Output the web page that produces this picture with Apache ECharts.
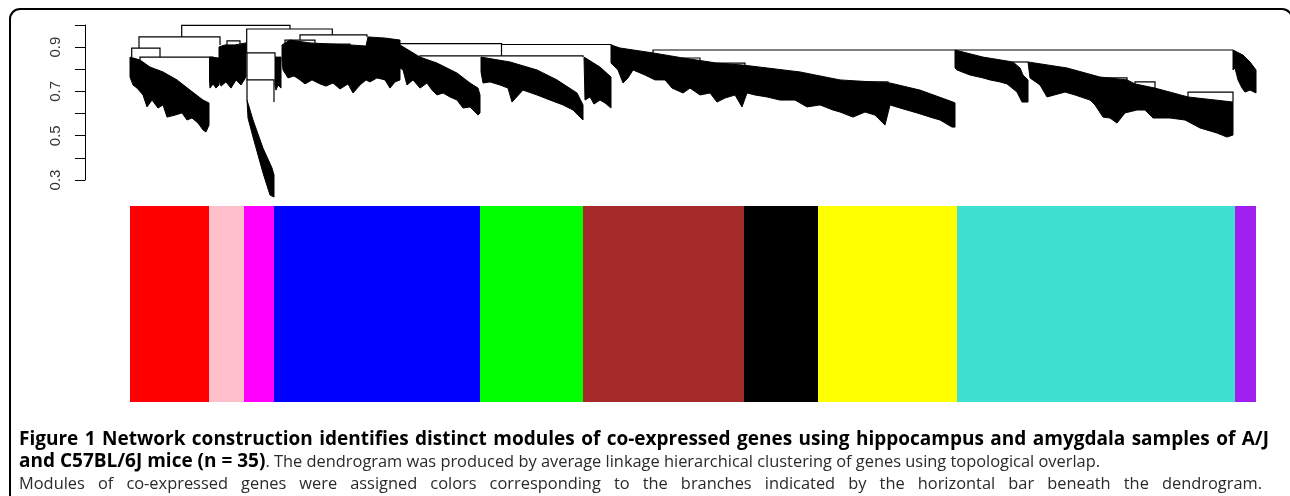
<!DOCTYPE html>
<html><head><meta charset="utf-8">
<script src="https://cdn.jsdelivr.net/npm/echarts@6/dist/echarts.min.js"></script>
<style>html,body{margin:0;padding:0;background:#fff;}#chart{width:1290px;height:496px;}</style>
</head><body><div id="chart"></div>
<script>
// ---- colour bar: module sizes (genes, in dendrogram leaf order) ----
const moduleNames = ['red','pink','magenta','blue','green','brown','black','yellow','turquoise','purple'];
const moduleSizes = [79, 35, 30, 206, 103, 161, 74, 139, 278, 21];
const moduleColors = ['#FF0000','#FFC0CB','#FF00FF','#0000FF','#00FF00','#A52A2A','#000000','#FFFF00','#40E0D0','#A020F0'];

// ---- y axis ----
const yTickLabels = ['0.3','0.5','0.7','0.9'];

// ---- dendrogram branch outlines: [leaf position, height] ----
const redTop = [[0,0.855],[10,0.842],[20,0.810],[33,0.788],[47,0.752],[60,0.706],[73,0.661],[79,0.648]];
const redBottom = [[79,0.548],[76,0.517],[73,0.526],[68,0.557],[62,0.580],[57,0.571],[52,0.603],[45,0.593],[37,0.584],[33,0.639],[28,0.625],[22,0.661],[17,0.630],[13,0.684],[7,0.715],[3,0.729],[0,0.765]];
const pinkATop = [[79.5,0.855],[89,0.851]];
const pinkABottom = [[89,0.729],[86,0.715],[83,0.734],[80,0.715],[79.5,0.752]];
const pinkBTop = [[89,0.901],[95,0.910],[105,0.910],[116,0.919]];
const pinkBBottom = [[116,0.765],[111,0.729],[106,0.752],[101,0.715],[96,0.743],[91,0.724],[89,0.752]];
const magentaTop = [[117,0.661],[123,0.571],[133,0.444],[142,0.354],[144,0.323]];
const magentaBottom = [[144,0.223],[140,0.232],[133,0.332],[123,0.494],[118,0.580]];
const blueATop = [[145,0.855],[151,0.855]];
const blueABottom = [[151,0.715],[148,0.729],[146,0.706],[145,0.729]];
const blueBTop = [[152,0.910],[160,0.932],[180,0.919],[200,0.914],[220,0.910],[236,0.905],[238,0.946],[255,0.941],[270,0.932]];
const blueBBottom = [[270,0.752],[265,0.743],[260,0.715],[255,0.752],[247,0.761],[240,0.743],[236,0.752],[230,0.729],[223,0.693],[218,0.734],[210,0.711],[203,0.738],[196,0.724],[190,0.734],[182,0.752],[175,0.734],[170,0.752],[164,0.770],[158,0.761],[153,0.797],[152,0.842]];
const blueCTop = [[270,0.910],[290,0.855],[307,0.828],[327,0.783],[340,0.738],[348,0.715],[350,0.684]];
const blueCBottom = [[350,0.603],[348,0.593],[340,0.630],[333,0.625],[327,0.661],[320,0.675],[313,0.693],[307,0.684],[302,0.706],[297,0.738],[290,0.715],[283,0.752],[277,0.729],[273,0.797],[270,0.806]];
const greenTop = [[351,0.855],[380,0.833],[407,0.797],[427,0.752],[447,0.693],[453,0.639]];
const greenBottom = [[453,0.571],[448,0.593],[443,0.616],[433,0.639],[420,0.661],[407,0.684],[393,0.706],[382,0.652],[378,0.715],[370,0.729],[360,0.743],[353,0.738],[351,0.788]];
const brownATop = [[454,0.855],[470,0.810],[481,0.765]];
const brownABottom = [[481,0.625],[475,0.648],[470,0.661],[464,0.643],[460,0.675],[455,0.661]];
const brownBTop = [[481,0.910],[490,0.896],[523,0.874],[553,0.851],[587,0.828],[613,0.819],[670,0.788],[710,0.752],[760,0.738],[790,0.706],[823,0.652],[825,0.648]];
const brownBBottom = [[825,0.539],[822,0.539],[810,0.571],[803,0.580],[787,0.603],[770,0.625],[760,0.639],[755,0.548],[745,0.593],[735,0.607],[723,0.584],[710,0.607],[703,0.616],[690,0.639],[677,0.630],[665,0.661],[650,0.661],[637,0.675],[625,0.684],[617,0.693],[612,0.630],[605,0.684],[595,0.670],[587,0.652],[580,0.693],[570,0.684],[560,0.715],[553,0.693],[542,0.715],[535,0.752],[525,0.752],[515,0.774],[503,0.797],[498,0.761],[493,0.738],[488,0.797],[481,0.828]];
const turqATop = [[825,0.887],[853,0.855],[883,0.833],[890,0.806],[893,0.774],[898,0.752]];
const turqABottom = [[898,0.652],[892,0.652],[887,0.697],[877,0.734],[870,0.743],[860,0.752],[853,0.761],[840,0.774],[832,0.788],[827,0.797],[825,0.806]];
const turqBTop = [[898,0.833],[937,0.806],[970,0.765],[997,0.752],[1005,0.734],[1025,0.715],[1058,0.675],[1103,0.652]];
const turqBBottom = [[1103,0.503],[1097,0.494],[1087,0.512],[1070,0.535],[1055,0.571],[1040,0.580],[1023,0.580],[1015,0.616],[1007,0.616],[995,0.603],[987,0.557],[980,0.580],[973,0.584],[965,0.639],[960,0.661],[945,0.684],[935,0.697],[917,0.675],[910,0.729],[900,0.761]];
const purpleTop = [[1103,0.887],[1113,0.864],[1120,0.833],[1126,0.797]];
const purpleBottom = [[1126,0.693],[1120,0.706],[1115,0.697],[1112,0.715],[1108,0.752],[1105,0.806],[1103,0.797]];

// merges: [left leaf pos, right leaf pos, merge height, left child height, right child height]
const mergeLinks = [
  [51.7,160,0.998,0.946,0.982],[9,90,0.946,0.896,0.910],[1.7,30,0.896,0.855,0.855],[10,83,0.855,0.842,0.851],
  [116.7,202.3,0.982,0.874,0.955],[117,145,0.874,0.752,0.855],[117,144,0.752,0.661,0.652],
  [170,237,0.955,0.932,0.946],[155,185,0.932,0.910,0.919],[190,220,0.914,0.896,0.901],[97,110,0.928,0.910,0.914],
  [260,371.5,0.916,0.932,0.861],[371.5,481,0.912,0.916,0.910],[290,453,0.861,0.855,0.855],
  [523,1103,0.887,0.874,0.887],[710,758,0.743,0.729,0.729],[747,758,0.684,0.670,0.675],[587,615,0.828,0.806,0.815],
  [883,898,0.833,0.833,0.833],[970,997,0.761,0.743,0.752],[1005,1025,0.743,0.724,0.715],[1058,1103,0.697,0.670,0.652],
  [553,570,0.851,0.806,0.819]
];

// ---- caption ----
const captionLine1 = 'Figure 1 Network construction identifies distinct modules of co-expressed genes using hippocampus and amygdala samples of A/J';
const captionLine2Bold = 'and C57BL/6J mice (n = 35)';
const captionLine2Rest = '. The dendrogram was produced by average linkage hierarchical clustering of genes using topological overlap.';
const captionLine3 = 'Modules of co-expressed genes were assigned colors corresponding to the branches indicated by the horizontal bar beneath the dendrogram.';

const branches = [
  [redTop,redBottom],[pinkATop,pinkABottom],[pinkBTop,pinkBBottom],[magentaTop,magentaBottom],
  [blueATop,blueABottom],[blueBTop,blueBBottom],[blueCTop,blueCBottom],[greenTop,greenBottom],
  [brownATop,brownABottom],[brownBTop,brownBBottom],[turqATop,turqABottom],[turqBTop,turqBBottom],[purpleTop,purpleBottom]
];
const totalGenes = moduleSizes.reduce((a,b)=>a+b,0);

// caption layout helpers (justified lines, as in the journal layout)
const mctx = document.createElement('canvas').getContext('2d');
const FAM = '"Open Sans", "DejaVu Sans", sans-serif';
const boldFont = 'bold 19px ' + FAM;
const regFont = '16.4px ' + FAM;
function measure(t, font){ mctx.font = font; return mctx.measureText(t).width; }
function justified(text, font, fill, x0, x1, y){
  const words = text.split(' ');
  const ws = words.map(w => measure(w, font));
  const gap = (x1 - x0 - ws.reduce((a,b)=>a+b,0)) / (words.length - 1);
  let x = x0;
  return words.map((w,i) => { const el = {type:'text', x:x, y:y, silent:true, style:{text:w, font:font, fill:fill, verticalAlign:'middle'}}; x += ws[i] + gap; return el; });
}
const boldW = measure(captionLine2Bold, boldFont);

const chart = echarts.init(document.getElementById('chart'));
const option = {
  animation: false,
  backgroundColor: '#fff',
  grid: [
    {left:130, width:1126, top:25, height:155},
    {left:130, width:1126, top:206, height:196}
  ],
  xAxis: [
    {gridIndex:0, type:'value', min:0, max:totalGenes, show:false},
    {gridIndex:1, type:'value', min:0, max:totalGenes, show:false}
  ],
  yAxis: [
    {gridIndex:0, type:'value', min:0.3, max:1.0, interval:0.1, position:'left', offset:45,
     axisLine:{show:true, onZero:false, lineStyle:{color:'#000', width:1}},
     axisTick:{show:true, length:10, lineStyle:{color:'#000', width:1}},
     splitLine:{show:false},
     axisLabel:{rotate:90, margin:22, color:'#333', fontSize:15, fontFamily:'"Liberation Sans", Arial, sans-serif',
       formatter: v => { const s = (Math.round(v*10)/10).toFixed(1); return yTickLabels.includes(s) ? s : ''; }}},
    {gridIndex:1, type:'category', data:['modules'], show:false}
  ],
  series: [
    {type:'custom', xAxisIndex:0, yAxisIndex:0, clip:false, silent:true,
     data: branches.map((b,i)=>[i]),
     renderItem: (params, api) => {
       const b = branches[params.dataIndex];
       const pts = b[0].concat(b[1]).map(p => api.coord(p));
       return {type:'polygon', shape:{points:pts}, style:{fill:'#000', stroke:'#000', lineWidth:1}};
     }},
    {type:'custom', xAxisIndex:0, yAxisIndex:0, clip:false, silent:true,
     data: mergeLinks.map((m,i)=>[i]),
     renderItem: (params, api) => {
       const m = mergeLinks[params.dataIndex];
       const pts = [api.coord([m[0],m[3]]), api.coord([m[0],m[2]]), api.coord([m[1],m[2]]), api.coord([m[1],m[4]])];
       return {type:'polyline', shape:{points:pts}, style:{fill:null, stroke:'#000', lineWidth:1.2}};
     }}
  ].concat(moduleNames.map((n,i)=>({
    type:'bar', name:n, xAxisIndex:1, yAxisIndex:1, stack:'modules', barWidth:'100%', silent:true,
    itemStyle:{color:moduleColors[i]}, data:[moduleSizes[i]]
  }))),
  graphic: [
    {type:'rect', shape:{x:10, y:9, width:1282, height:540, r:10}, style:{fill:'none', stroke:'#000', lineWidth:2}, silent:true}
  ].concat(
    justified(captionLine1, boldFont, '#000', 19, 1269, 440),
    [{type:'text', x:19, y:462, silent:true, style:{text:captionLine2Bold, font:boldFont, fill:'#000', verticalAlign:'middle'}},
     {type:'text', x:19 + boldW, y:462, silent:true, style:{text:captionLine2Rest, font:regFont, fill:'#2a2a2a', verticalAlign:'middle'}}],
    justified(captionLine3, regFont, '#2a2a2a', 19, 1262, 484)
  )
};
chart.setOption(option);
</script></body></html>
